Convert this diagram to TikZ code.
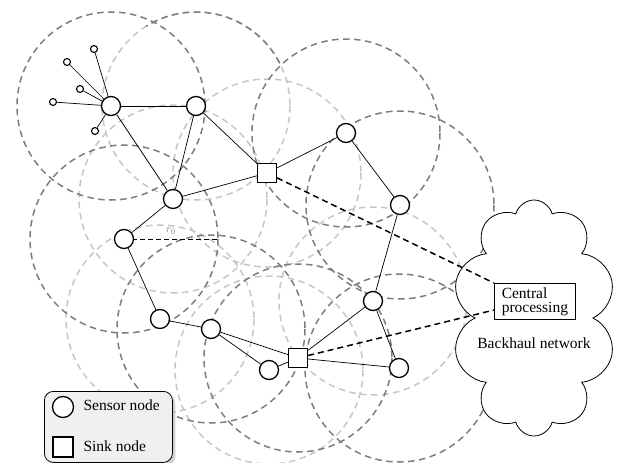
\documentclass[tikz,border=0pt]{standalone}
\usepackage{fontspec}
\setmainfont{Liberation Serif}
\usetikzlibrary{shapes.symbols,shadows}
\definecolor{darkring}{RGB}{125,125,125}
\definecolor{lightring}{RGB}{198,198,198}
\definecolor{legendfill}{RGB}{240,240,240}
\begin{document}
\begin{tikzpicture}[x=1pt,y=-1pt,
  ringdark/.style={draw=darkring,line width=1.5pt,dash pattern=on 6.5pt off 4.5pt},
  ringlight/.style={draw=lightring,line width=1.5pt,dash pattern=on 6.5pt off 4.5pt},
  sensor/.style={circle,draw,line width=1.3pt,fill=white,minimum size=19pt,inner sep=0pt},
  leaf/.style={circle,draw,line width=1.1pt,fill=white,minimum size=7pt,inner sep=0pt},
  sink/.style={rectangle,draw,line width=1.3pt,fill=white,minimum size=19pt,inner sep=0pt},
  link/.style={draw,line width=0.7pt},
  backlink/.style={draw,line width=1.5pt,dash pattern=on 6pt off 4pt},
  txt/.style={font=\fontsize{15.5}{14}\selectfont}]
\useasboundingbox (0,0) rectangle (619,463);
% positions
\coordinate (pA) at (111,106);
\coordinate (pB) at (196,106);
\coordinate (pC) at (173,199);
\coordinate (pD) at (124,239);
\coordinate (pE) at (160,319);
\coordinate (pF) at (211,329);
\coordinate (pG) at (269,370);
\coordinate (pH) at (346,133);
\coordinate (pI) at (400,205);
\coordinate (pJ) at (373,301);
\coordinate (pK) at (399,368);
\coordinate (pS1) at (267,173);
\coordinate (pS2) at (298,358);
% range rings
\draw[ringlight] (pC) circle[radius=94];
\draw[ringlight] (pE) circle[radius=94];
\draw[ringlight] (pG) circle[radius=94];
\draw[ringlight] (pJ) circle[radius=94];
\draw[ringlight] (pS1) circle[radius=94];
\draw[ringlight] (pB) circle[radius=94];
\draw[ringdark] (pB) ++(-27:94) arc[start angle=-27,end angle=-122,radius=94];
\draw[ringdark] (pA) circle[radius=94];
\draw[ringdark] (pD) circle[radius=94];
\draw[ringdark] (pF) circle[radius=94];
\draw[ringdark] (pH) circle[radius=94];
\draw[ringdark] (pI) circle[radius=94];
\draw[ringdark] (pK) circle[radius=94];
\draw[ringdark] (pS2) circle[radius=94];
% radius
\coordinate (rend) at (218,239);
\draw[line width=0.7pt,dash pattern=on 5pt off 3pt] (pD) -- (rend);
\node[text=darkring,font=\fontsize{11}{11}\selectfont] (r0) at (171,231) {$r_0$};
% cloud
\node[cloud,cloud puffs=10,aspect=0.77,draw,line width=0.8pt,fill=white,
  minimum width=164pt,minimum height=236pt,inner sep=0pt] (cloud) at (534,318) {};
\node[txt] (bh) at (534,343) {Backhaul network};
\node[draw,line width=0.8pt,fill=white,align=left,inner sep=2pt,txt,
  minimum width=81pt,minimum height=36pt,anchor=north west] (cp) at (494,283) {Central\\processing};
% nodes
\node[sensor] (A) at (pA) {};
\node[sensor] (B) at (pB) {};
\node[sensor] (C) at (pC) {};
\node[sensor] (D) at (pD) {};
\node[sensor] (E) at (pE) {};
\node[sensor] (F) at (pF) {};
\node[sensor] (G) at (pG) {};
\node[sensor] (H) at (pH) {};
\node[sensor] (I) at (pI) {};
\node[sensor] (J) at (pJ) {};
\node[sensor] (K) at (pK) {};
\node[sink] (S1) at (pS1) {};
\node[sink] (S2) at (pS2) {};
\node[leaf] (l1) at (94,49) {};
\node[leaf] (l2) at (67,62) {};
\node[leaf] (l3) at (80,89) {};
\node[leaf] (l4) at (53,102) {};
\node[leaf] (l5) at (95,131) {};
% links
\foreach \u/\v in {A/B,A/C,B/C,B/S1,C/S1,C/D,D/E,E/F,F/S2,F/G,G/S2,S2/J,S2/K,J/K,J/I,I/H,H/S1,A/l1,A/l2,A/l3,A/l4,A/l5}
  \draw[link] (\u) -- (\v);
\draw[backlink] (S1) -- (cp.north west);
\draw[backlink] (S2) -- (cp.south west |- 0,310);
% legend
\node[draw,line width=0.8pt,rounded corners=9pt,fill=legendfill,
  drop shadow={shadow xshift=3pt,shadow yshift=-3pt,fill=gray!70},
  minimum width=128pt,minimum height=71pt,anchor=north west] (leg) at (44,391) {};
\node[sensor,minimum size=21pt,fill=white] (ls) at (63,407) {};
\node[sink,minimum size=20pt,fill=white] (lk) at (63,447) {};
\node[txt,anchor=west] (lst) at (80,405) {Sensor node};
\node[txt,anchor=west] (lkt) at (80,446) {Sink node};
\end{tikzpicture}
\end{document}
